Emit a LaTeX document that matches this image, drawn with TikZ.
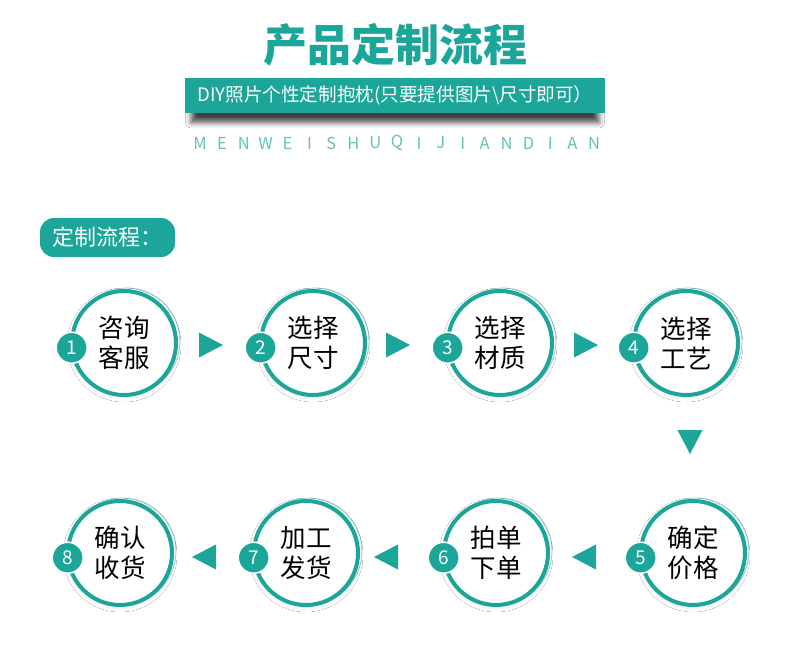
\documentclass[tikz,border=0pt]{standalone}
\usepackage{fontspec}
\setmainfont{Noto Sans CJK SC}
\usetikzlibrary{shadows.blur}
\definecolor{TealClr}{rgb}{0.11,0.65,0.60}
\definecolor{RingClr}{rgb}{0.55,0.82,0.79}
\definecolor{LetterClr}{rgb}{0.40,0.76,0.72}

\tikzset{
  stepring/.style={circle,draw=TealClr,line width=4pt,fill=white,minimum size=104pt,inner sep=0pt,
    align=center,font=\fontsize{25.5}{30}\selectfont,
    blur shadow={shadow xshift=0pt,shadow yshift=-2pt,shadow blur radius=5pt,shadow opacity=10}},
  stepnum/.style={circle,fill=TealClr,draw=white,line width=1.5pt,minimum size=31pt,inner sep=0pt,
    text=white,font=\fontsize{19}{19}\selectfont},
}

\begin{document}
\begin{tikzpicture}[x=1pt,y=-1pt]
\fill[white] (0,0) rectangle (790,672);
\useasboundingbox (0,0) rectangle (790,672);

\node[text=TealClr,font=\fontsize{44}{44}\selectfont\bfseries] (title) at (395,45) {产品定制流程};
\node[fill=TealClr,minimum width=420pt,minimum height=35pt,inner sep=0pt,text=white,
  font=\fontsize{18.6}{18.6}\selectfont,
  blur shadow={shadow xshift=0pt,shadow yshift=-10pt,shadow blur radius=6pt,shadow opacity=75,shadow scale=0.97}]
  (banner) at (395,95.5) {DIY照片个性定制抱枕(只要提供图片\textbackslash 尺寸即可）};
\foreach \ch [count=\i from 0] in {M,E,N,W,E,I,S,H,U,Q,I,J,I,A,N,D,I,A,N}
  \node[text=LetterClr,font=\fontsize{16.5}{16.5}\selectfont] (letter\i) at (200+21.9*\i,143) {\ch};

\node[fill=TealClr,rounded corners=14pt,minimum width=135pt,minimum height=39pt,text=white,
  font=\fontsize{22}{22}\selectfont] (tag) at (107.5,237.5) {定制流程：};

\foreach \n/\cx/\cy/\ta/\tb in {1/124/343/咨询/客服,2/313/343/选择/尺寸,3/500/343/选择/材质,4/686/343/选择/工艺,
  5/693/553/确定/价格,6/496/553/拍单/下单,7/306/553/加工/发货,8/120/553/确认/收货}{
  \draw[RingClr,line width=0.8pt] (\cx+3,\cy-2) circle (53pt);
  \node[stepring] (step\n) at (\cx,\cy) {\ta\\\tb};
  \node[stepnum] (num\n) at ([xshift=1.5pt]step\n.185) {\n};
}

\foreach \ax/\ay/\rot in {210/345/0,397/345/0,585/345/0,690/441/-90,585/557/180,387/557/180,205/557/180}
  \fill[TealClr,shift={(\ax,\ay)},rotate=\rot] (-11,-12.5) -- (13,0) -- (-11,12.5) -- cycle;

\end{tikzpicture}
\end{document}
